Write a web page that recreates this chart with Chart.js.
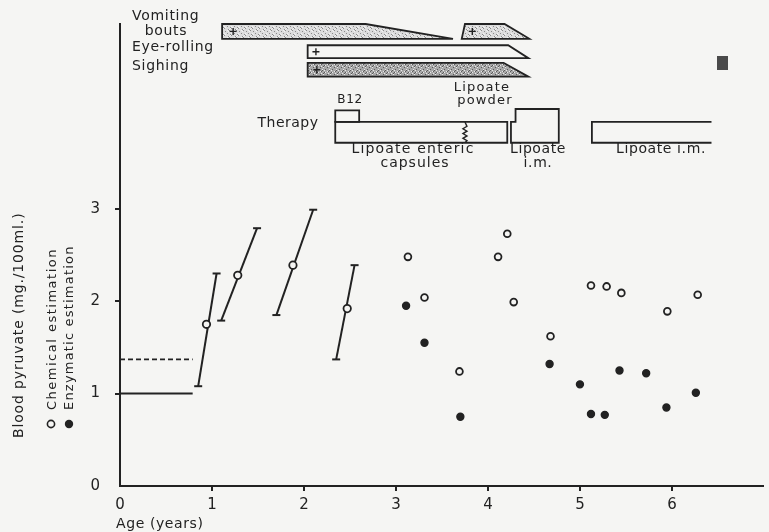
<!DOCTYPE html>
<html>
<head>
<meta charset="utf-8">
<script src="https://cdn.jsdelivr.net/npm/chart.js@4.4.1/dist/chart.umd.min.js"></script>
<style>
html,body{margin:0;padding:0;background:#f5f5f3;}
canvas{display:block;}
</style>
</head>
<body>
<canvas id="c" width="769" height="532"></canvas>
<script>
// ---------- DATA ----------
const xTicks = [0, 1, 2, 3, 4, 5, 6];
const yTicks = [0, 1, 2, 3];

// early chemical estimations with ranges (slanted bars)
const errAge     = [0.94, 1.28, 1.88, 2.47];
const errMean    = [1.75, 2.28, 2.39, 1.92];
const errLowAge  = [0.85, 1.10, 1.70, 2.35];
const errLow     = [1.08, 1.79, 1.85, 1.37];
const errHighAge = [1.05, 1.49, 2.10, 2.55];
const errHigh    = [2.30, 2.79, 2.99, 2.39];

// chemical estimation (open circles)
const chemAge = [3.13, 3.31, 3.69, 4.11, 4.21, 4.28, 4.68, 5.12, 5.29, 5.45, 5.95, 6.28];
const chemVal = [2.48, 2.04, 1.24, 2.48, 2.73, 1.99, 1.62, 2.17, 2.16, 2.09, 1.89, 2.07];

// enzymatic estimation (filled circles)
const enzAge = [3.11, 3.31, 3.70, 4.67, 5.00, 5.12, 5.27, 5.43, 5.72, 5.94, 6.26];
const enzVal = [1.95, 1.55, 0.75, 1.32, 1.10, 0.78, 0.77, 1.25, 1.22, 0.85, 1.01];

// normal reference levels
const normalAge    = [0, 0.79];
const normalSolid  = [1.0, 1.0];
const normalDashed = [1.37, 1.37];

// symptoms (ages): start, start of taper, end
const vomitingStart = [1.11, 3.75];
const vomitingTaper = [2.67, 4.18];
const vomitingEnd   = [3.62, 4.45];
const eyeRollingSpan = [2.04, 4.22, 4.44];
const sighingSpan    = [2.04, 4.17, 4.44];

// therapy periods (ages)
const therapyNames = ['B12', 'Lipoate enteric capsules', 'Lipoate powder', 'Lipoate i.m.'];
const therapyStart = [2.34, 2.34, 4.25, 5.13];
const therapyEnd   = [2.60, 4.21, 4.77, 6.43];
const capsuleBreakAge = 3.75;
const powderStepAge = 4.30;

// ---------- STYLE ----------
const BG = '#f5f5f3';
const INK = '#222222';
const FONT = 'DejaVu Sans';

function stipple(ctx, base, dark, light, a, b) {
  const c = document.createElement('canvas');
  c.width = 14; c.height = 14;
  const g = c.getContext('2d');
  g.fillStyle = base; g.fillRect(0, 0, 14, 14);
  for (let i = 0; i < 14; i++) for (let j = 0; j < 14; j++) {
    const h = (i * a + j * b + i * j) % 7;
    if (h === 0) { g.fillStyle = dark; g.fillRect(i, j, 1, 1); }
    else if (light && h === 4) { g.fillStyle = light; g.fillRect(i, j, 1, 1); }
  }
  return ctx.createPattern(c, 'repeat');
}

const errDatasets = errAge.map((a, i) => ({
  type: 'line',
  data: [{x: errLowAge[i], y: errLow[i]}, {x: errHighAge[i], y: errHigh[i]}],
  borderColor: INK, borderWidth: 2,
  pointStyle: 'line', pointRadius: 4, pointBorderWidth: 2, pointBorderColor: INK,
  fill: false, clip: false
}));

const bgPlugin = {
  id: 'bg',
  beforeDraw(chart) {
    const ctx = chart.ctx;
    ctx.save(); ctx.fillStyle = BG; ctx.fillRect(0, 0, chart.width, chart.height); ctx.restore();
  }
};

function text(ctx, s, x, y, size, align, ls) {
  ctx.font = size + 'px "' + FONT + '"';
  ctx.letterSpacing = (ls || 0) + 'px';
  ctx.textAlign = align || 'left';
  ctx.textBaseline = 'alphabetic';
  ctx.fillText(s, x, y);
}
function vtext(ctx, s, x, y, size, ls) {
  ctx.save();
  ctx.translate(x, y);
  ctx.rotate(-Math.PI / 2);
  text(ctx, s, 0, 0, size, 'left', ls);
  ctx.restore();
}

const annot = {
  id: 'annot',
  afterDraw(chart) {
    const ctx = chart.ctx;
    const X = v => chart.scales.x.getPixelForValue(v);
    const Y = v => chart.scales.y.getPixelForValue(v);
    ctx.save();
    ctx.strokeStyle = INK; ctx.fillStyle = INK; ctx.lineWidth = 1.8; ctx.lineJoin = 'miter';

    const poly = (pts, fill) => {
      ctx.beginPath();
      pts.forEach((p, i) => i ? ctx.lineTo(X(p[0]), Y(p[1])) : ctx.moveTo(X(p[0]), Y(p[1])));
      ctx.closePath();
      if (fill) { ctx.fillStyle = fill; ctx.fill(); }
      ctx.stroke();
    };
    const plus = (age, yv) => {
      const px = X(age), py = Y(yv);
      ctx.save(); ctx.lineWidth = 1.4; ctx.beginPath();
      ctx.moveTo(px - 3.5, py); ctx.lineTo(px + 3.5, py);
      ctx.moveTo(px, py - 3.5); ctx.lineTo(px, py + 3.5);
      ctx.stroke(); ctx.restore();
    };

    const lightStip = stipple(ctx, '#dcdcdc', '#8a8a8a', '#f2f2f2', 3, 5);
    const darkStip = stipple(ctx, '#a8a8a8', '#5a5a5a', '#e8e8e8', 2, 3);

    // symptom rows (y in data units)
    const vT = 5.0, vB = 4.84, eT = 4.77, eB = 4.63, sT = 4.58, sB = 4.43;
    poly([[vomitingStart[0], vT], [vomitingTaper[0], vT], [vomitingEnd[0], vB], [vomitingStart[0], vB]], lightStip);
    poly([[vomitingStart[1], vT], [vomitingTaper[1], vT], [vomitingEnd[1], vB], [vomitingStart[1] - 0.035, vB]], lightStip);
    poly([[eyeRollingSpan[0], eT], [eyeRollingSpan[1], eT], [eyeRollingSpan[2], eB], [eyeRollingSpan[0], eB]], BG);
    poly([[sighingSpan[0], sT], [sighingSpan[1], sT], [sighingSpan[2], sB], [sighingSpan[0], sB]], darkStip);
    ctx.strokeStyle = INK;
    plus(vomitingStart[0] + 0.12, (vT + vB) / 2);
    plus(vomitingStart[1] + 0.08, (vT + vB) / 2);
    plus(eyeRollingSpan[0] + 0.09, (eT + eB) / 2);
    plus(sighingSpan[0] + 0.10, (sT + sB) / 2);

    // therapy
    const tT = 3.94, tB = 3.715, b12T = 4.065, powT = 4.08;
    ctx.fillStyle = BG;
    poly([[therapyStart[0], b12T], [therapyEnd[0], b12T], [therapyEnd[0], tT], [therapyStart[0], tT]], null);
    poly([[therapyStart[1], tT], [therapyEnd[1], tT], [therapyEnd[1], tB], [therapyStart[1], tB]], null);
    ctx.beginPath();
    const zx = X(capsuleBreakAge), zt = Y(tT), zb = Y(tB);
    const n = 7;
    for (let k = 0; k <= n; k++) {
      const yy = zt + 2 + (zb - zt - 4) * k / n;
      const xx = zx + (k % 2 ? 2 : -2);
      k ? ctx.lineTo(xx, yy) : ctx.moveTo(zx, zt);
    }
    ctx.lineTo(zx, zb);
    ctx.lineWidth = 1.4; ctx.stroke(); ctx.lineWidth = 1.8;
    poly([[therapyStart[2], tB], [therapyStart[2], tT], [powderStepAge, tT], [powderStepAge, powT],
          [therapyEnd[2], powT], [therapyEnd[2], tB]], null);
    ctx.beginPath();
    ctx.moveTo(X(therapyEnd[3]), Y(tT)); ctx.lineTo(X(therapyStart[3]), Y(tT));
    ctx.lineTo(X(therapyStart[3]), Y(tB)); ctx.lineTo(X(therapyEnd[3]), Y(tB));
    ctx.stroke();

    // small dark mark top-right
    ctx.fillStyle = '#4a4a4a';
    ctx.fillRect(717, 56, 11, 14);

    // ---------- texts ----------
    ctx.fillStyle = INK;
    text(ctx, 'Vomiting', 132, 20, 14, 'left', 0.7);
    text(ctx, 'bouts', 166, 35, 14, 'center', 0.7);
    text(ctx, 'Eye-rolling', 132, 51, 14, 'left', 0.7);
    text(ctx, 'Sighing', 132, 70, 14, 'left', 0.7);

    text(ctx, 'Therapy', 288, 127, 14, 'center', 0.5);
    text(ctx, therapyNames[0], 350, 103, 12, 'center', 0.6);
    text(ctx, 'Lipoate', 482, 91, 13, 'center', 1.2);
    text(ctx, 'powder', 485, 104, 13, 'center', 1.2);
    text(ctx, 'Lipoate enteric', 413, 153, 14, 'center', 1.2);
    text(ctx, 'capsules', 415, 167, 14, 'center', 1.0);
    text(ctx, 'Lipoate', 538, 153, 14, 'center', 0.6);
    text(ctx, 'i.m.', 538, 167, 14, 'center', 0.6);
    text(ctx, 'Lipoate i.m.', 661, 153, 14, 'center', 0.6);

    text(ctx, 'Age (years)', 116, 528, 14, 'left', 0.6);

    vtext(ctx, 'Blood pyruvate (mg./100ml.)', 23, 438, 14, 0.85);
    vtext(ctx, 'Chemical estimation', 56, 410, 13, 1.5);
    vtext(ctx, 'Enzymatic estimation', 73, 410, 13, 1.2);

    ctx.lineWidth = 1.6; ctx.strokeStyle = INK;
    ctx.beginPath(); ctx.arc(51, 424, 3.6, 0, Math.PI * 2); ctx.fillStyle = BG; ctx.fill(); ctx.stroke();
    ctx.beginPath(); ctx.arc(69, 424, 4.2, 0, Math.PI * 2); ctx.fillStyle = INK; ctx.fill();
    ctx.restore();
  }
};

new Chart(document.getElementById('c'), {
  type: 'scatter',
  data: {
    datasets: [
      { label: 'Chemical estimation (range)', type: 'scatter',
        data: errAge.map((a, i) => ({x: a, y: errMean[i]})),
        pointRadius: 3.7, pointBorderWidth: 1.8, pointBackgroundColor: BG, pointBorderColor: INK },
      { label: 'Chemical estimation', type: 'scatter',
        data: chemAge.map((a, i) => ({x: a, y: chemVal[i]})),
        pointRadius: 3.4, pointBorderWidth: 1.8, pointBackgroundColor: BG, pointBorderColor: INK },
      { label: 'Enzymatic estimation', type: 'scatter',
        data: enzAge.map((a, i) => ({x: a, y: enzVal[i]})),
        pointRadius: 3.5, pointBorderWidth: 1.4, pointBackgroundColor: INK, pointBorderColor: INK },
      ...errDatasets,
      { type: 'line', data: normalAge.map((a, i) => ({x: a, y: normalSolid[i]})),
        borderColor: INK, borderWidth: 2, pointRadius: 0, fill: false },
      { type: 'line', data: normalAge.map((a, i) => ({x: a, y: normalDashed[i]})),
        borderColor: INK, borderWidth: 1.8, borderDash: [5, 3], pointRadius: 0, fill: false }
    ]
  },
  options: {
    responsive: false,
    devicePixelRatio: 1,
    animation: false,
    events: [],
    layout: { padding: { top: 17.5, left: 0, right: 0, bottom: 0 } },
    plugins: { legend: { display: false }, tooltip: { enabled: false } },
    scales: {
      x: {
        type: 'linear', min: 0, max: 6.99,
        afterBuildTicks: s => { s.ticks = xTicks.map(v => ({value: v})); },
        afterFit: s => { s.height = 46; },
        ticks: { font: { family: FONT, size: 15 }, color: INK, padding: 5, maxRotation: 0, autoSkip: false,
                 callback: v => String(v) },
        grid: { drawOnChartArea: false, drawTicks: true, tickLength: 5, lineWidth: 2,
                color: c => (c.tick && c.tick.value === 0) ? 'rgba(0,0,0,0)' : INK },
        border: { display: true, color: INK, width: 2 }
      },
      y: {
        type: 'linear', min: 0, max: 5.0,
        afterBuildTicks: s => { s.ticks = yTicks.map(v => ({value: v})); },
        afterFit: s => { s.width = 120; },
        ticks: { font: { family: FONT, size: 15 }, color: INK, padding: 15,
                 callback: v => String(v) },
        grid: { drawOnChartArea: false, drawTicks: true, tickLength: 5, lineWidth: 2,
                color: c => (c.tick && c.tick.value === 0) ? 'rgba(0,0,0,0)' : INK },
        border: { display: true, color: INK, width: 2 }
      }
    }
  },
  plugins: [bgPlugin, annot]
});
</script>
</body>
</html>
